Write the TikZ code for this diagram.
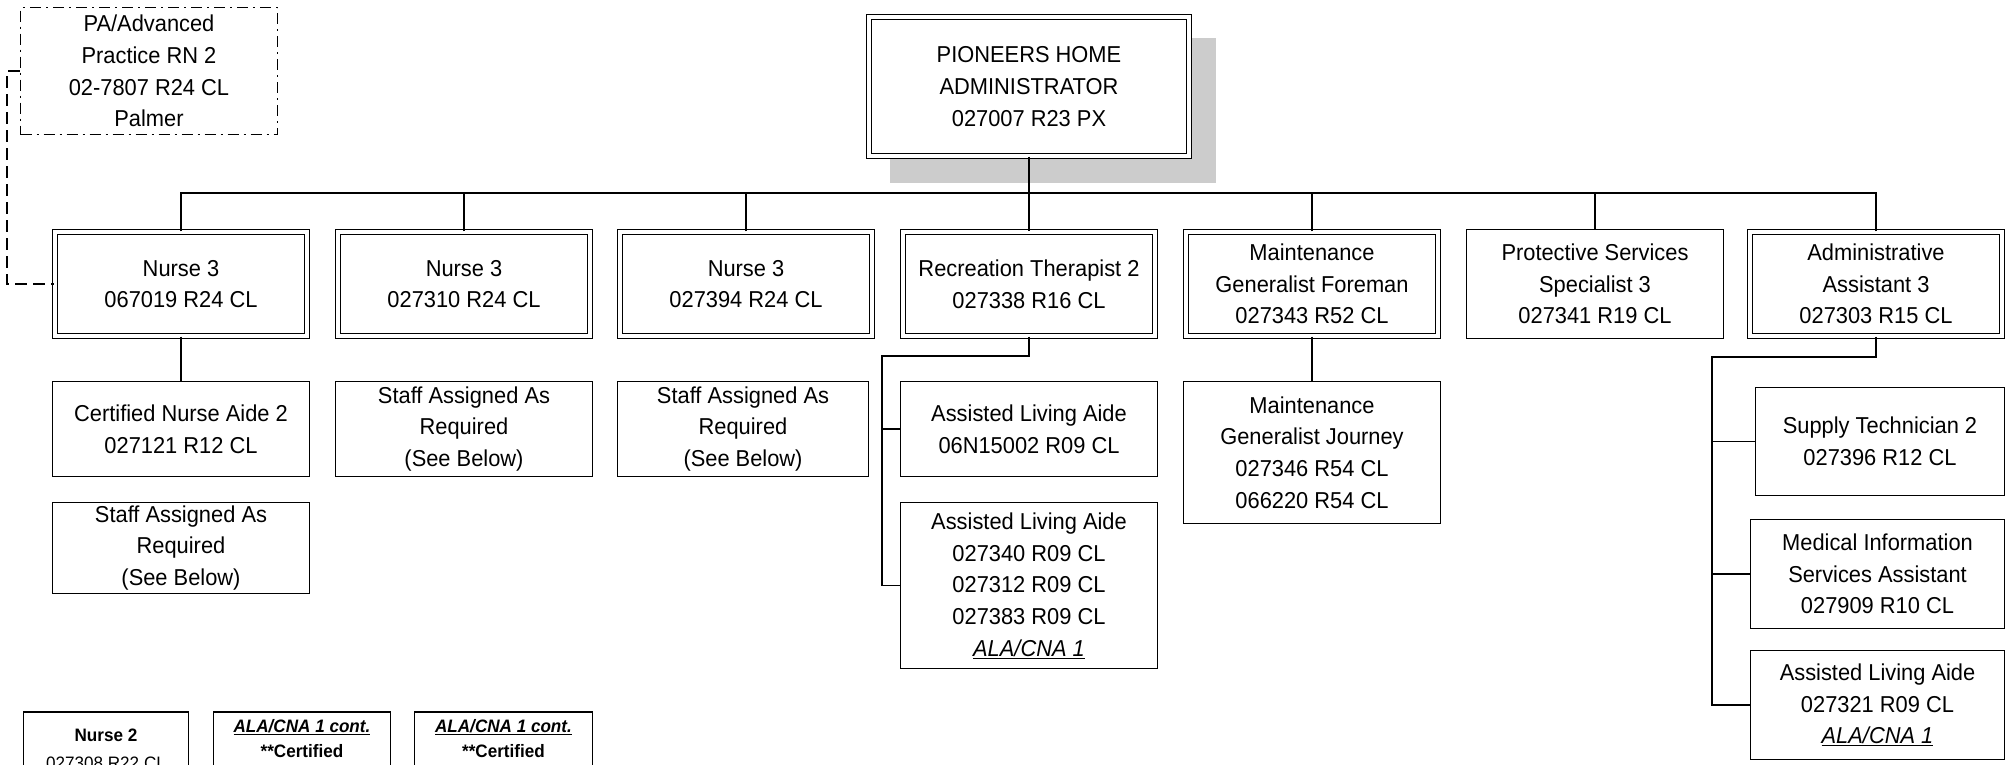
\documentclass[tikz,border=0pt]{standalone}
\usepackage{fontspec}
\setmainfont{Liberation Sans}[FakeStretch=0.95]
\definecolor{shadowgray}{RGB}{204,204,204}
\tikzset{
  box/.style={draw, fill=white, line width=1.6pt, align=center, inner sep=0pt,
    font=\fontsize{23}{31.7}\selectfont},
  dbox/.style={box, line width=1.3pt, double, double distance=3.2pt},
  rowbox/.style={minimum width=252pt, minimum height=104pt},
  botbox/.style={box, anchor=north, text depth=40pt},
  conn/.style={line width=1.6pt},
  dashconn/.style={line width=1.5pt, dash pattern=on 12pt off 6pt}
}

\begin{document}
\begin{tikzpicture}[x=1pt, y=-1pt]
\useasboundingbox (0,0) rectangle (2007,764);
\clip (0,0) rectangle (2007,764);

% top of the chart
\fill[shadowgray] (890,38) rectangle (1216,183);
\node[dbox, minimum width=320pt, minimum height=139pt] (admin) at (1029,86.5) {PIONEERS HOME\\ADMINISTRATOR\\027007 R23 PX};
\node[box, line width=1.4pt, minimum width=257pt, minimum height=127pt, dash pattern=on 11pt off 5pt on 2pt off 5pt] (pa) at (149,71) {PA/Advanced\\Practice RN 2\\02-7807 R24 CL\\Palmer};

% first row
\node[dbox, rowbox] (nurseA) at (181,284) {Nurse 3\\067019 R24 CL};
\node[dbox, rowbox] (nurseB) at (464,284) {Nurse 3\\027310 R24 CL};
\node[dbox, rowbox] (nurseC) at (746,284) {Nurse 3\\027394 R24 CL};
\node[dbox, rowbox] (rec) at (1029,284) {Recreation Therapist 2\\027338 R16 CL};
\node[dbox, rowbox] (maint) at (1312,284) {Maintenance\\Generalist Foreman\\027343 R52 CL};
\node[box, minimum width=257pt, minimum height=109pt] (prot) at (1595,284) {Protective Services\\Specialist 3\\027341 R19 CL};
\node[dbox, rowbox] (adasst) at (1876,284) {Administrative\\Assistant 3\\027303 R15 CL};

% second row
\node[box, minimum width=257pt, minimum height=95pt] (cna) at (181,429) {Certified Nurse Aide 2\\027121 R12 CL};
\node[box, minimum width=257pt, minimum height=91pt] (staffA) at (181,548) {Staff Assigned As\\Required\\(See Below)};
\node[box, minimum width=257pt, minimum height=95pt] (staffB) at (464,429) {Staff Assigned As\\Required\\(See Below)};
\node[box, minimum width=251pt, minimum height=95pt] (staffC) at (743,429) {Staff Assigned As\\Required\\(See Below)};
\node[box, minimum width=257pt, minimum height=95pt] (alaA) at (1029,429) {Assisted Living Aide\\06N15002 R09 CL};
\node[box, minimum width=257pt, minimum height=166pt] (alaB) at (1029,585.5) {Assisted Living Aide\\027340 R09 CL\\027312 R09 CL\\027383 R09 CL\\\underline{\textit{ALA/CNA 1}}};
\node[box, minimum width=257pt, minimum height=142pt] (journey) at (1312,452.5) {Maintenance\\Generalist Journey\\027346 R54 CL\\066220 R54 CL};
\node[box, minimum width=249pt, minimum height=108pt] (supply) at (1880,441.5) {Supply Technician 2\\027396 R12 CL};
\node[box, minimum width=254pt, minimum height=109pt] (medinfo) at (1877.5,574) {Medical Information\\Services Assistant\\027909 R10 CL};
\node[box, minimum width=254pt, minimum height=109pt] (alaC) at (1877.5,705) {Assisted Living Aide\\027321 R09 CL\\\underline{\textit{ALA/CNA 1}}};

% bottom row
\node[botbox, minimum width=165pt, inner ysep=17pt, font=\fontsize{18}{28}\selectfont] (nurseD) at (106,711) {\textbf{Nurse 2}\\027308 R22 CL};
\node[botbox, minimum width=177pt, inner ysep=8pt, font=\fontsize{18}{25}\selectfont] (contA) at (302,711) {\underline{\textbf{\textit{ALA/CNA 1 cont.}}}\\\textbf{**Certified}};
\node[botbox, minimum width=178pt, inner ysep=8pt, font=\fontsize{18}{25}\selectfont] (contB) at (503.5,711) {\underline{\textbf{\textit{ALA/CNA 1 cont.}}}\\\textbf{**Certified}};

% connectors
\coordinate (bus) at (1029,193);
\coordinate (rectrunk) at (882,356);
\coordinate (aatrunk) at (1712,357);
\coordinate (patrunk) at (7,180);
\foreach \n in {nurseA,nurseB,nurseC,maint,prot,adasst}
  \draw[conn] (\n.north) |- (bus);
\draw[conn] (admin.south) -- (rec.north);
\draw[conn] (nurseA.south) -- (cna.north);
\draw[conn] (maint.south) -- (journey.north);
\draw[conn] (rec.south) |- (rectrunk) |- (alaB.west);
\draw[conn] (rectrunk) |- (alaA.west);
\draw[conn] (adasst.south) |- (aatrunk) |- (alaC.west);
\draw[conn] (aatrunk) |- (supply.west);
\draw[conn] (aatrunk) |- (medinfo.west);
\draw[dashconn] (pa.west) -| (patrunk) |- (nurseA.west);
\end{tikzpicture}
\end{document}
